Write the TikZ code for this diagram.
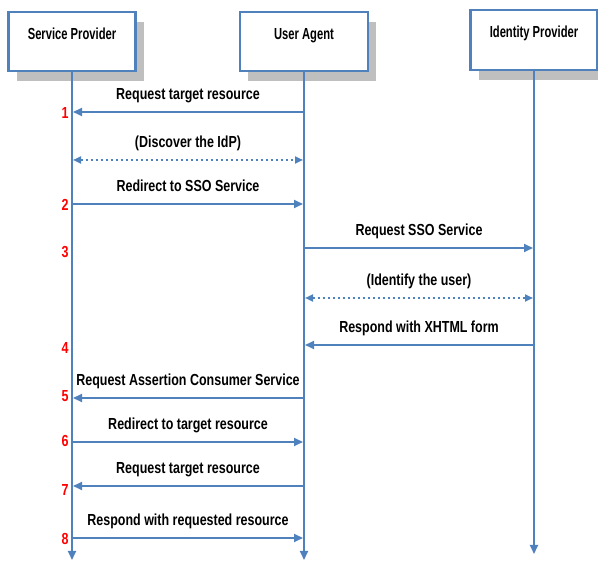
\documentclass[tikz,border=0pt]{standalone}
\usepackage{fontspec}
\newfontfamily\hdrfont[FakeStretch=0.70]{Liberation Sans}
\newfontfamily\msgfont[FakeStretch=0.78]{Liberation Sans}
\usetikzlibrary{arrows.meta,shadows}
\definecolor{lineblue}{HTML}{4F81BD}
\definecolor{shadowgray}{HTML}{BFBFBF}
\definecolor{stepred}{HTML}{FF0000}

\begin{document}
\begin{tikzpicture}[x=1pt,y=-1pt,
  actor/.style={draw=lineblue, line width=2.5pt, fill=white,
    minimum width=127pt, minimum height=59pt, inner sep=0pt,
    drop shadow={shadow xshift=8pt, shadow yshift=-10pt,
      fill=shadowgray, opacity=1}},
  actorlabel/.style={anchor=base, inner sep=0pt,
    font=\hdrfont\bfseries\fontsize{16pt}{18pt}\selectfont},
  life/.style={draw=lineblue, line width=2pt,
    -{Triangle[length=9pt,width=8pt]}},
  msg/.style={draw=lineblue, line width=2pt, shorten >=1pt,
    -{Triangle[length=9pt,width=8pt]}},
  idle/.style={draw=lineblue, line width=2.4pt,
    dash pattern=on 2.2pt off 2.8pt, shorten >=1pt, shorten <=1pt,
    {Triangle[length=8pt,width=7pt]}-{Triangle[length=8pt,width=7pt]}},
  msglabel/.style={anchor=base, inner sep=0pt, yshift=12pt,
    font=\msgfont\bfseries\fontsize{16pt}{18pt}\selectfont},
  stepnum/.style={inner sep=0pt, text=stepred,
    font=\msgfont\bfseries\fontsize{16pt}{18pt}\selectfont}]
\useasboundingbox (0,0) rectangle (598,561);
\clip (0,0) rectangle (598,561);

% participants
\node[actor] (sp) at (72,41.5) {};
\node[actor, minimum width=128pt] (ua) at (304,41.5) {};
\node[actor, minimum height=60pt] (idp) at (534,40) {};
\node[actorlabel] (spl) at (72,40) {Service Provider};
\node[actorlabel] (ual) at (304,40) {User Agent};
\node[actorlabel] (idpl) at (534,38) {Identity Provider};

% lifelines
\coordinate (spEnd) at (72,560);
\coordinate (uaEnd) at (304,560);
\coordinate (idpEnd) at (534,554);
\draw[life] (sp.south) -- (spEnd);
\draw[life] (ua.south) -- (uaEnd);
\draw[life] (idp.south) -- (idpEnd);

% message anchor points on the lifelines
\foreach \n/\y in {a/112, b/160, c/204, d/248, e/298, f/345, g/398, h/442, i/486, j/538} {
  \coordinate (sp-\n) at (72,\y);
  \coordinate (ua-\n) at (304,\y);
  \coordinate (idp-\n) at (534,\y);
}

% messages
\draw[msg] (ua-a) -- (sp-a) node[msglabel, midway] (ma) {Request target resource};
\draw[idle] (sp-b) -- (ua-b) node[msglabel, midway] (mb) {(Discover the IdP)};
\draw[msg] (sp-c) -- (ua-c) node[msglabel, midway] (mc) {Redirect to SSO Service};
\draw[msg] (ua-d) -- (idp-d) node[msglabel, midway] (md) {Request SSO Service};
\draw[idle] (ua-e) -- (idp-e) node[msglabel, midway] (me) {(Identify the user)};
\draw[msg] (idp-f) -- (ua-f) node[msglabel, midway] (mf) {Respond with XHTML form};
\draw[msg] (ua-g) -- (sp-g) node[msglabel, midway] (mg) {Request Assertion Consumer Service};
\draw[msg] (sp-h) -- (ua-h) node[msglabel, midway] (mh) {Redirect to target resource};
\draw[msg] (ua-i) -- (sp-i) node[msglabel, midway] (mi) {Request target resource};
\draw[msg] (sp-j) -- (ua-j) node[msglabel, midway] (mj) {Respond with requested resource};

% step numbers
\node[stepnum] (n1) at (65,113) {1};
\node[stepnum] (n2) at (65,205) {2};
\node[stepnum] (n3) at (65,252) {3};
\node[stepnum] (n4) at (65,348) {4};
\node[stepnum] (n5) at (65,396) {5};
\node[stepnum] (n6) at (65,441) {6};
\node[stepnum] (n7) at (65,490) {7};
\node[stepnum] (n8) at (65,539) {8};
\end{tikzpicture}
\end{document}
